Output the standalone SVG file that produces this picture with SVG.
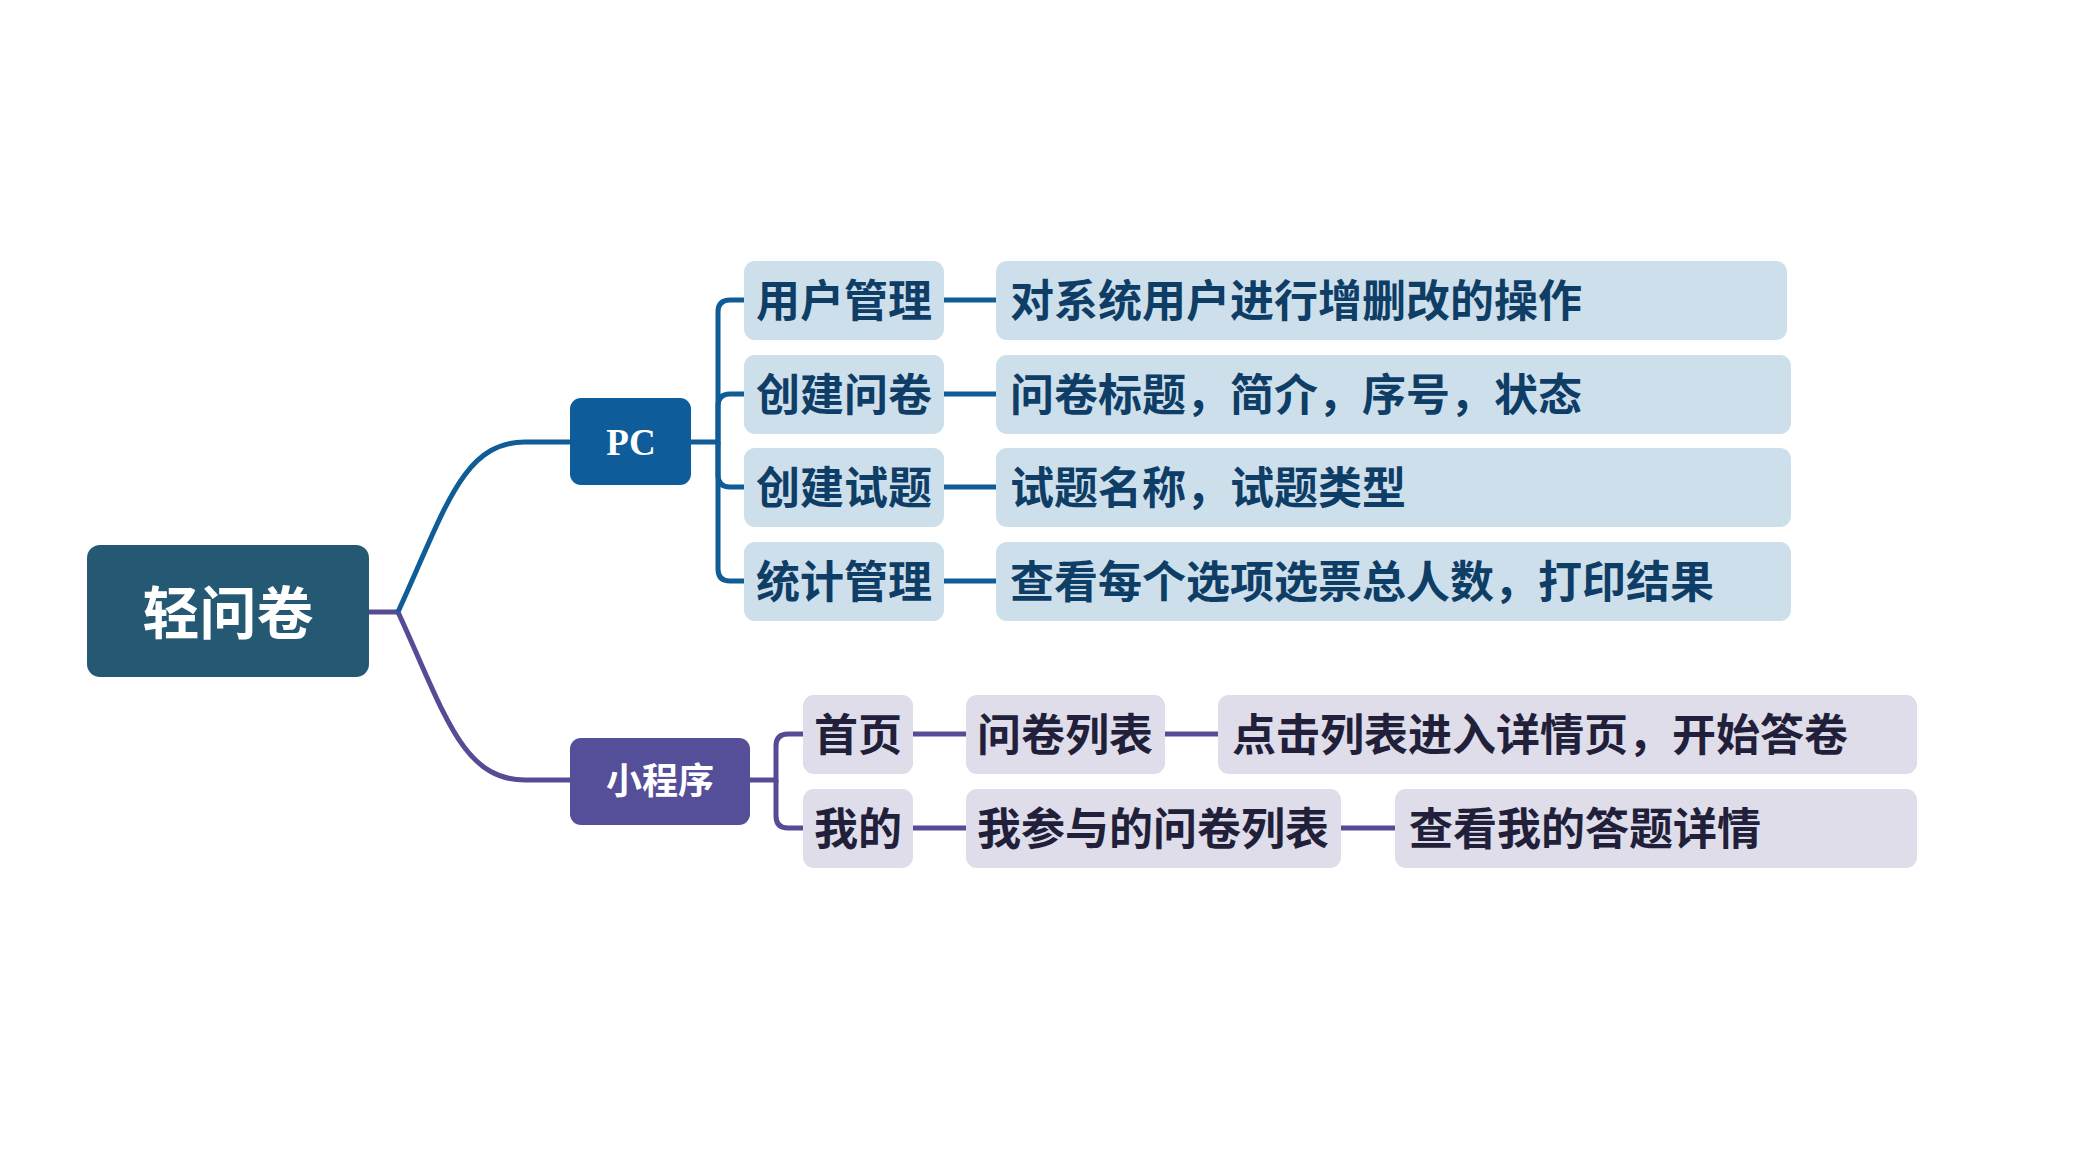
<svg xmlns="http://www.w3.org/2000/svg" width="2099" height="1161" viewBox="0 0 2099 1161">
<style>
.t{font-family:"Noto Sans CJK SC","Noto Sans",sans-serif;font-weight:700;dominant-baseline:central}
.b{fill:#cedfec}
.p{fill:#dedde9}
.bt{fill:#0e3d66;font-size:44px}
.pt{fill:#221f3a;font-size:44px}
.lb{fill:none;stroke:#0f5c96;stroke-width:5}
.lp{fill:none;stroke:#564b95;stroke-width:5}
</style>
<rect width="2099" height="1161" fill="#ffffff"/>
<g id="connectors">
<path class="lp" d="M369 612 H398"/>
<path class="lb" d="M398 612 C445 510 462 442 525 442 H570"/>
<path class="lp" d="M398 612 C445 714 462 780 525 780 H570"/>
<path class="lb" d="M691 442 H718 V312 Q718 300 730 300 H744"/>
<path class="lb" d="M718 442 V406 Q718 394 730 394 H744"/>
<path class="lb" d="M718 442 V475 Q718 487 730 487 H744"/>
<path class="lb" d="M718 442 V569 Q718 581 730 581 H744"/>
<path class="lb" d="M944 300 H996 M944 394 H996 M944 487 H996 M944 581 H996"/>
<path class="lp" d="M750 780 H776 V746 Q776 734 788 734 H803"/>
<path class="lp" d="M776 780 V816 Q776 828 788 828 H803"/>
<path class="lp" d="M913 734 H966 M1165 734 H1218 M913 828 H966 M1341 828 H1395"/>
</g>
<g id="root">
<rect x="87" y="545" width="282" height="132" rx="13" fill="#255873"/>
<text class="t" x="228" y="609" font-size="57" fill="#ffffff" text-anchor="middle">轻问卷</text>
</g>
<g id="pc">
<rect x="570" y="398" width="121" height="87" rx="11" fill="#0e5c99"/>
<text x="631" y="455" font-family="'Liberation Serif',serif" font-weight="700" font-size="37" fill="#ffffff" text-anchor="middle">PC</text>
</g>
<g id="mini">
<rect x="570" y="738" width="180" height="87" rx="11" fill="#554e98"/>
<text class="t" x="660" y="778" font-size="36" fill="#ffffff" text-anchor="middle">小程序</text>
</g>
<g id="pc-user">
<rect class="b" x="744" y="261" width="200" height="79" rx="11"/>
<text class="t bt" x="844" y="298" text-anchor="middle">用户管理</text>
</g>
<g id="pc-user-d">
<rect class="b" x="996" y="261" width="791" height="79" rx="11"/>
<text class="t bt" x="1010" y="298">对系统用户进行增删改的操作</text>
</g>
<g id="pc-survey">
<rect class="b" x="744" y="355" width="200" height="79" rx="11"/>
<text class="t bt" x="844" y="392" text-anchor="middle">创建问卷</text>
</g>
<g id="pc-survey-d">
<rect class="b" x="996" y="355" width="795" height="79" rx="11"/>
<text class="t bt" x="1010" y="392">问卷标题，简介，序号，状态</text>
</g>
<g id="pc-question">
<rect class="b" x="744" y="448" width="200" height="79" rx="11"/>
<text class="t bt" x="844" y="485" text-anchor="middle">创建试题</text>
</g>
<g id="pc-question-d">
<rect class="b" x="996" y="448" width="795" height="79" rx="11"/>
<text class="t bt" x="1010" y="485">试题名称，试题类型</text>
</g>
<g id="pc-stats">
<rect class="b" x="744" y="542" width="200" height="79" rx="11"/>
<text class="t bt" x="844" y="579" text-anchor="middle">统计管理</text>
</g>
<g id="pc-stats-d">
<rect class="b" x="996" y="542" width="795" height="79" rx="11"/>
<text class="t bt" x="1010" y="579">查看每个选项选票总人数，打印结果</text>
</g>
<g id="mini-home">
<rect class="p" x="803" y="695" width="110" height="79" rx="11"/>
<text class="t pt" x="858" y="732" text-anchor="middle">首页</text>
</g>
<g id="mini-home-list">
<rect class="p" x="966" y="695" width="199" height="79" rx="11"/>
<text class="t pt" x="1065" y="732" text-anchor="middle">问卷列表</text>
</g>
<g id="mini-home-d">
<rect class="p" x="1218" y="695" width="699" height="79" rx="11"/>
<text class="t pt" x="1232" y="732">点击列表进入详情页，开始答卷</text>
</g>
<g id="mini-mine">
<rect class="p" x="803" y="789" width="110" height="79" rx="11"/>
<text class="t pt" x="858" y="826" text-anchor="middle">我的</text>
</g>
<g id="mini-mine-list">
<rect class="p" x="966" y="789" width="375" height="79" rx="11"/>
<text class="t pt" x="1153" y="826" text-anchor="middle">我参与的问卷列表</text>
</g>
<g id="mini-mine-d">
<rect class="p" x="1395" y="789" width="522" height="79" rx="11"/>
<text class="t pt" x="1409" y="826">查看我的答题详情</text>
</g>
</svg>
